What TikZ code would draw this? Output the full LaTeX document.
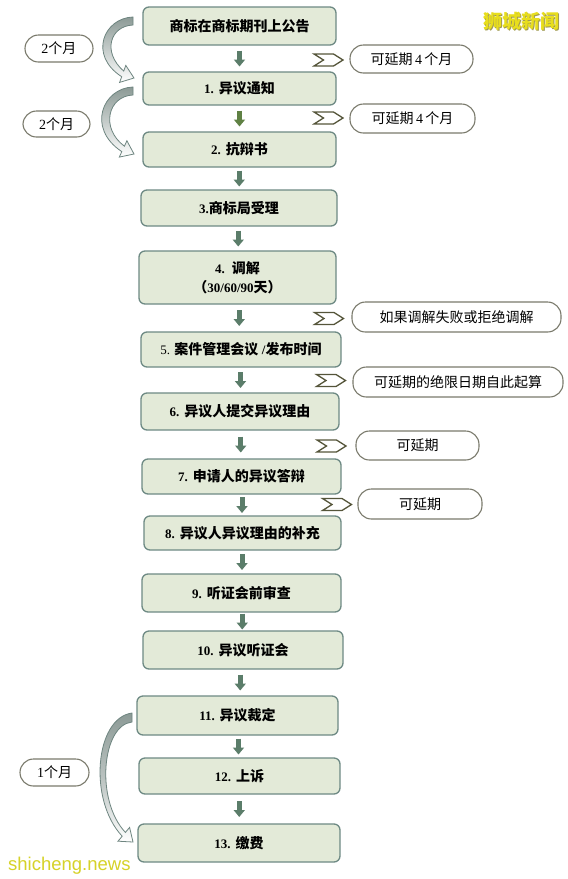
\documentclass[tikz,border=0pt]{standalone}
\usepackage{fontspec}
\setmainfont{Liberation Serif}
\newfontfamily\cjk{Noto Sans CJK SC}
\newfontfamily\wmsans{Liberation Sans}
\usetikzlibrary{arrows.meta,calc}
\definecolor{boxfill}{HTML}{E3EAD8}
\definecolor{boxdraw}{HTML}{6E8A84}
\definecolor{arrowc}{HTML}{5B7D6A}
\definecolor{arrowg}{HTML}{5F8144}
\definecolor{pilldraw}{HTML}{7A7A6C}
\definecolor{chevc}{HTML}{55553A}
\definecolor{curvedraw}{HTML}{6E8580}
\definecolor{curvegray}{HTML}{8C9A96}
\definecolor{wmyellow}{HTML}{E8DE1C}
\definecolor{wmshade}{HTML}{A09A50}
\definecolor{wmgreen}{HTML}{D6D228}
\newcommand\bnum[1]{{\bfseries\fontsize{13}{15}\selectfont #1}}
\newcommand\bcjk[1]{{\cjk\bfseries #1}}
\newcommand\rcjk[1]{{\cjk #1}}
\begin{document}
\begin{tikzpicture}[x=1pt,y=-1pt,
  every node/.style={inner sep=0pt, font=\fontsize{14}{16}\selectfont},
  stepbox/.style={draw=boxdraw, line width=1.3pt, fill=boxfill, rounded corners=6pt, align=center},
  pill/.style={draw=pilldraw, line width=1.1pt, fill=white, rounded corners=13.5pt},
  downarr/.style={draw=arrowc, line width=5pt, -{Triangle[width=11pt,length=7pt]}},
  curvearr/.style={draw=curvedraw, line width=0.8pt, top color=curvegray, bottom color=white},
  chev/.pic={\draw[chevc, line width=1.3pt, line join=miter]
     (-14.5,-6) -- (5,-6) -- (14.5,0) -- (5,6) -- (-14.5,6) -- (-5,0) -- cycle;}
]
\fill[white] (0,0) rectangle (568,879);
\useasboundingbox (0,0) rectangle (568,879);

% main step boxes
\node[stepbox, minimum width=193pt, minimum height=38pt] (b0) at (239.5,26) {\bcjk{商标在商标期刊上公告}};
\node[stepbox, minimum width=193pt, minimum height=33pt] (b1) at (239.5,88.5) {\bnum{1.}\hspace{0.35em}\bcjk{异议通知}};
\node[stepbox, minimum width=193pt, minimum height=35pt] (b2) at (239.5,149.5) {\bnum{2.}\hspace{0.35em}\bcjk{抗辩书}};
\node[stepbox, minimum width=196pt, minimum height=36pt] (b3) at (239,208) {\bnum{3.}\bcjk{商标局受理}};
\node[stepbox, minimum width=197pt, minimum height=53pt] (b4) at (237.5,277.5) {\bnum{4.}\hspace{0.5em}\bcjk{调解}\\[3pt]\bcjk{（}\bnum{30/60/90}\bcjk{天）}};
\node[stepbox, minimum width=200pt, minimum height=35pt] (b5) at (241,349.5) {{\fontsize{13}{15}\selectfont 5.}\hspace{0.3em}\bcjk{案件管理会议}\hspace{0.25em}\bnum{/}\bcjk{发布时间}};
\node[stepbox, minimum width=198pt, minimum height=37pt] (b6) at (240,411.5) {\bnum{6.}\hspace{0.35em}\bcjk{异议人提交异议理由}};
\node[stepbox, minimum width=199pt, minimum height=35pt] (b7) at (241.5,476.5) {\bnum{7.}\hspace{0.35em}\bcjk{申请人的异议答辩}};
\node[stepbox, minimum width=197pt, minimum height=34pt] (b8) at (242.5,533) {\bnum{8.}\hspace{0.35em}\bcjk{异议人异议理由的补充}};
\node[stepbox, minimum width=199pt, minimum height=38pt] (b9) at (241.5,593) {\bnum{9.}\hspace{0.35em}\bcjk{听证会前审查}};
\node[stepbox, minimum width=200pt, minimum height=38pt] (b10) at (243,650) {\bnum{10.}\hspace{0.35em}\bcjk{异议听证会}};
\node[stepbox, minimum width=201pt, minimum height=39pt] (b11) at (237.5,715.5) {\bnum{11.}\hspace{0.35em}\bcjk{异议裁定}};
\node[stepbox, minimum width=201pt, minimum height=36pt] (b12) at (239.5,776) {\bnum{12.}\hspace{0.35em}\bcjk{上诉}};
\node[stepbox, minimum width=202pt, minimum height=38pt] (b13) at (239,843) {\bnum{13.}\hspace{0.35em}\bcjk{缴费}};

% down arrows: fixed length, centred in the gap between boxes
\foreach \a/\b/\c in {b0/b1/arrowc,b1/b2/arrowg,b2/b3/arrowc,b3/b4/arrowc,b4/b5/arrowc,b5/b6/arrowc,b6/b7/arrowc,b7/b8/arrowc,b8/b9/arrowc,b9/b10/arrowc,b10/b11/arrowc,b11/b12/arrowc,b12/b13/arrowc}{
  \coordinate (m) at ($($(\a.south)!0.5!(\a.south -| \b.north)$)!0.5!($(\b.north)!0.5!(\b.north -| \a.south)$)$);
  \draw[downarr, draw=\c] ($(m)+(0,-8)$) -- ($(m)+(0,8)$);
}

% right-hand notes
\node[pill, minimum width=123pt, minimum height=28pt] (e1) at (411.5,59) {\rcjk{可延期}\,4\,\rcjk{个月}};
\node[pill, minimum width=125pt, minimum height=29pt] (e2) at (412.5,118.5) {\rcjk{可延期}\,4\,\rcjk{个月}};
\node[pill, minimum width=209pt, minimum height=30pt] (e3) at (456.5,317) {\rcjk{如果调解失败或拒绝调解}};
\node[pill, minimum width=210pt, minimum height=30pt] (e4) at (458,382) {\rcjk{可延期的绝限日期自此起算}};
\node[pill, minimum width=123pt, minimum height=29pt] (e5) at (417.5,445.5) {\rcjk{可延期}};
\node[pill, minimum width=124pt, minimum height=30pt] (e6) at (420,504) {\rcjk{可延期}};

\pic at (328.5,60) {chev};
\pic at (328.5,118) {chev};
\pic at (329,318.5) {chev};
\pic at (331,380.5) {chev};
\pic at (331.5,446) {chev};
\pic at (337,504.5) {chev};

% left-hand durations
\node[pill, minimum width=68pt, minimum height=27pt] (l1) at (59,48.5) {2\rcjk{个月}};
\node[pill, minimum width=67pt, minimum height=26pt] (l2) at (56.5,124) {2\rcjk{个月}};
\node[pill, minimum width=69pt, minimum height=27pt] (l3) at (54.5,772.5) {1\rcjk{个月}};

% curved arrows
\path[curvearr] (133,17) .. controls (104,18) and (88,55) .. (121.7,76.7) -- (119.6,82.4) -- (134,78) -- (125.8,65.4) -- (123.7,71.1) .. controls (102,52) and (110,26) .. (133,25) -- cycle;
\path[curvearr] (133,87) .. controls (103,88) and (86,128) .. (121.8,151.6) -- (119.3,157.1) -- (134,154) -- (126.9,140.7) -- (124.4,146.2) .. controls (100,128) and (108,96) .. (133,95) -- cycle;
\path[curvearr, middle color=curvegray!60] (132,713) .. controls (95,718) and (88,800) .. (122.2,836.2) -- (118,841.2) -- (133,842) -- (129.6,827.4) -- (125.4,832.4) .. controls (95,800) and (102,725) .. (132,722) -- cycle;

% watermarks
\node[text=wmshade, font=\cjk\bfseries\fontsize{19}{19}\selectfont] at (522.3,21.8) {狮城新闻};
\node[text=wmyellow, font=\cjk\bfseries\fontsize{19}{19}\selectfont] (wm1) at (521.5,21) {狮城新闻};
\node[text=wmgreen, font=\wmsans\fontsize{18.5}{20}\selectfont, anchor=base west] (wm2) at (8,870) {shicheng.news};
\end{tikzpicture}
\end{document}
